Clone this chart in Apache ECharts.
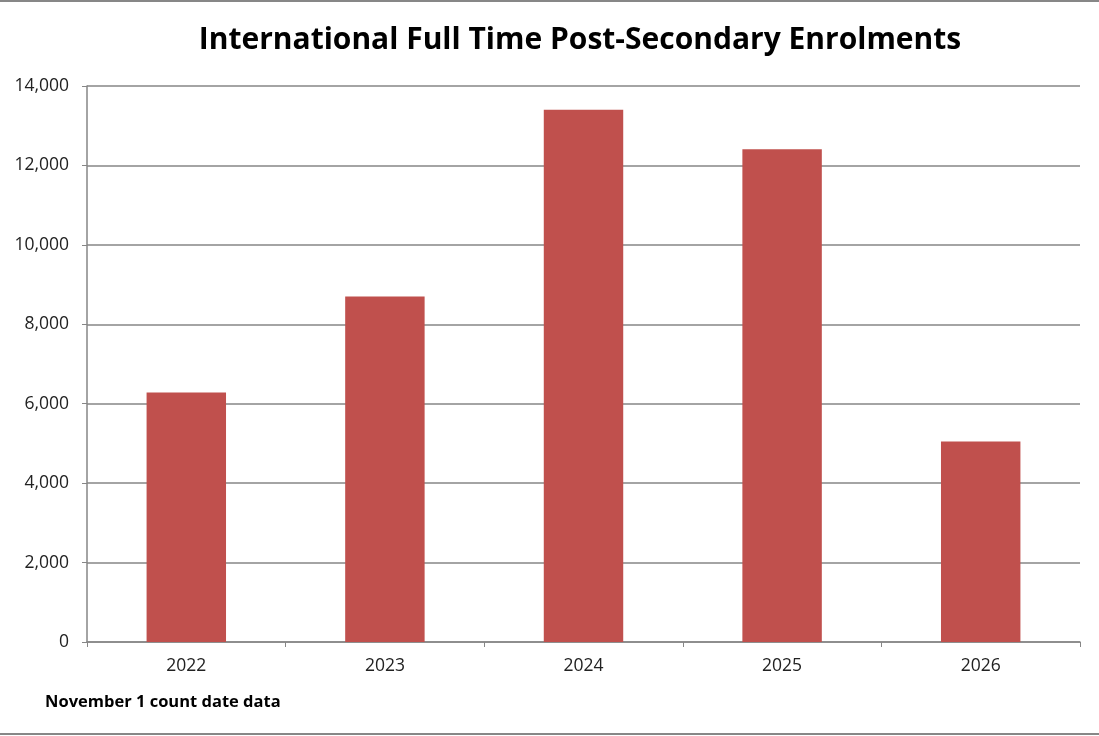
<!DOCTYPE html>
<html>
<head>
<meta charset="utf-8">
<script src="https://cdn.jsdelivr.net/npm/echarts@6/dist/echarts.min.js"></script>
<style>
    html, body { margin: 0; padding: 0; background: #fff; }
    #chart { width: 1099px; height: 736px; }
</style>
</head>
<body>
<div id="chart"></div>
<script>

var years = ['2022', '2023', '2024', '2025', '2026'];
var enrolments = [6280, 8700, 13400, 12410, 5050];

var chart = echarts.init(document.getElementById('chart'));

var option = {
    backgroundColor: '#fff',
    animation: false,
    title: {
        text: 'International Full Time Post-Secondary Enrolments',
        left: 575,
        top: 20,
        textAlign: 'center',
        textStyle: {
            fontFamily: 'Open Sans',
            fontWeight: 'bold',
            fontSize: 30,
            color: '#000'
        }
    },
    graphic: [
        // footnote under the axis
        {
            type: 'text',
            left: 45,
            top: 694,
            style: {
                text: 'November 1 count date data',
                fontFamily: 'Open Sans',
                fontWeight: 'bold',
                fontSize: 16.5,
                fill: '#000'
            }
        },
        // grey frame lines top and bottom
        { type: 'rect', left: 0, top: 0, shape: { width: 1099, height: 2 }, style: { fill: '#878787' } },
        { type: 'rect', left: 0, top: 733, shape: { width: 1099, height: 2 }, style: { fill: '#878787' } }
    ],
    grid: {
        left: 87,
        right: 19,
        top: 86,
        bottom: 94
    },
    xAxis: {
        type: 'category',
        data: years,
        axisLine: { lineStyle: { color: '#868686', width: 1.5 } },
        axisTick: { show: true, length: 5, alignWithLabel: false, lineStyle: { color: '#868686' } },
        axisLabel: {
            margin: 15,
            fontFamily: 'Open Sans',
            fontSize: 17.5,
            color: '#222'
        }
    },
    yAxis: {
        type: 'value',
        min: 0,
        max: 14000,
        interval: 2000,
        axisLine: { show: true, lineStyle: { color: '#868686', width: 1.5 } },
        axisTick: { show: true, length: 5, inside: false, lineStyle: { color: '#868686' } },
        splitLine: { lineStyle: { color: '#868686', width: 1.5 } },
        axisLabel: {
            margin: 18,
            fontFamily: 'Open Sans',
            fontSize: 17.5,
            color: '#222',
            formatter: function (v) {
                return v.toLocaleString('en-US');
            }
        }
    },
    series: [
        {
            name: 'Enrolments',
            type: 'bar',
            data: enrolments,
            barWidth: '40%',
            itemStyle: {
                color: '#C0504D'
            }
        }
    ]
};

chart.setOption(option);

</script>
</body>
</html>
